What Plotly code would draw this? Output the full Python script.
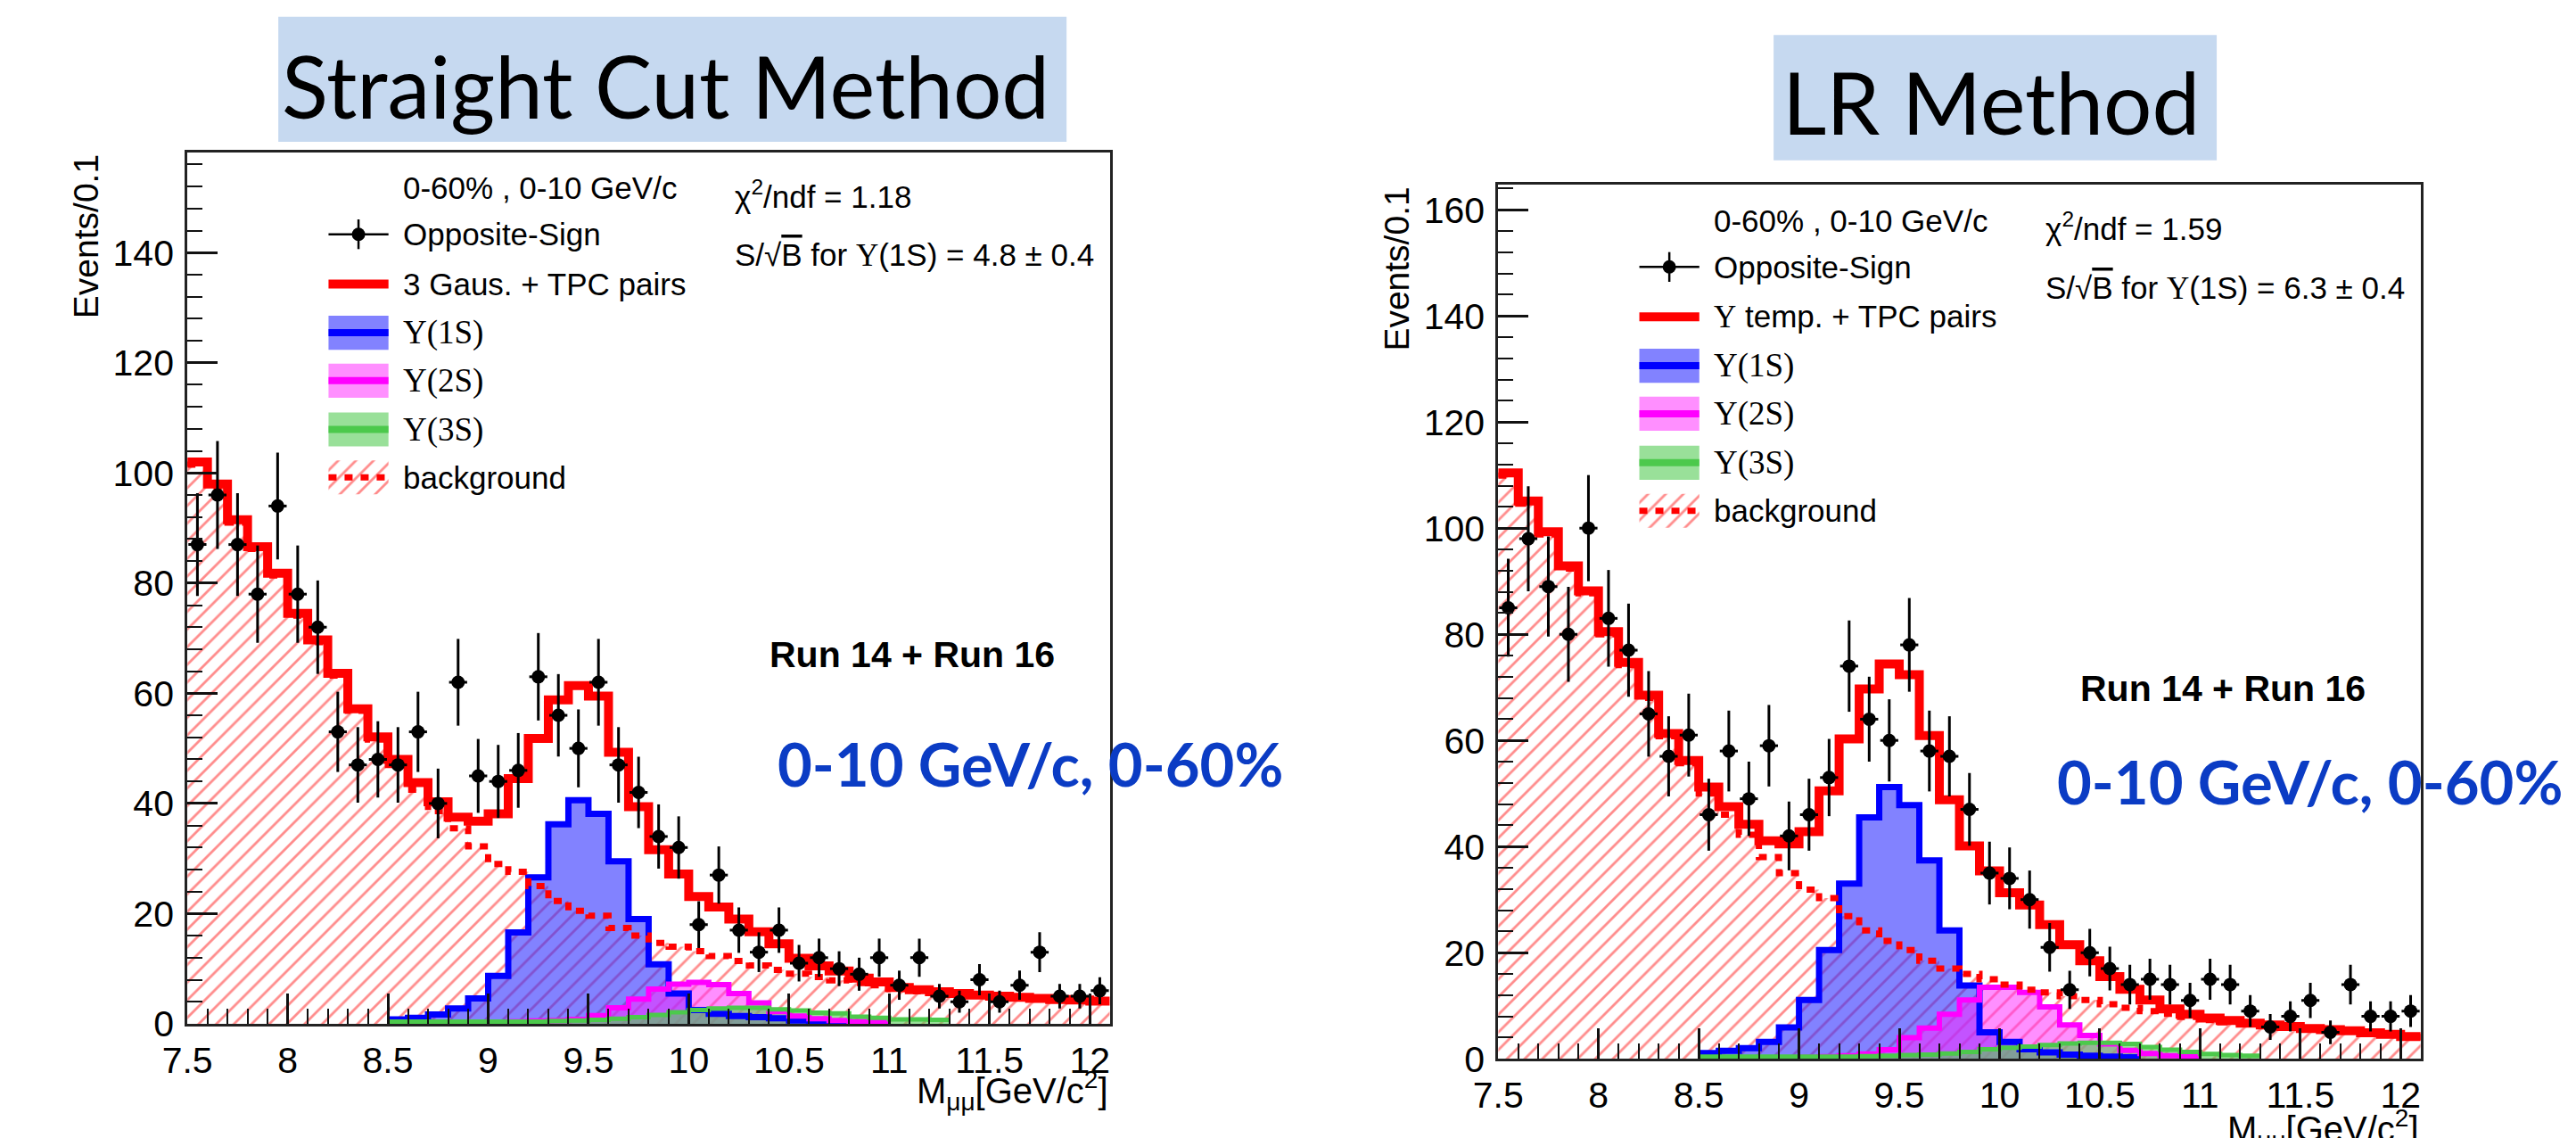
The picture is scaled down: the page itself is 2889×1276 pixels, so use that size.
import numpy as np
import plotly.graph_objects as go

W, H = 2889, 1276

# ---------------- data ----------------
BIN_LO = 7.5          # first bin edge  [GeV/c^2]
BIN_W = 0.1           # bin width
SIG_LO = 8.5          # first edge of the Upsilon templates
X_TICKS = [7.5, 8, 8.5, 9, 9.5, 10, 10.5, 11, 11.5, 12]

# Straight Cut Method
sc_data = [87, 96, 87, 78, 94, 78, 72, 53, 47, 48, 47, 53, 40, 62, 45, 44, 46, 63, 56, 50,
           62, 47, 42, 34, 32, 18, 27, 17, 13, 17, 11, 12, 10, 9, 12, 7, 12, 5, 4, 8,
           4, 7, 13, 5, 5, 6]
sc_total = [102, 98, 91.5, 86.6, 81.8, 74.5, 69.7, 63.6, 57.2, 52.1, 48.0, 43.8, 40.3, 37.5,
            36.8, 38.1, 44.5, 51.8, 58.8, 61.4, 59.5, 49.3, 39.4, 31.6, 27.2, 23.1, 21.2,
            19.0, 16.7, 14.5, 11.9, 10.5, 9.6, 8.3, 7.6, 6.6, 6.2, 5.8, 5.5, 5.2, 5.0, 4.8,
            4.6, 4.4, 4.3, 4.1]
sc_bkg = [101.5, 97.5, 91, 86.2, 81.4, 74.1, 69.3, 63.2, 56.8, 51.6, 47.0, 42.5, 38.6, 35.5,
          32.2, 29.0, 27.6, 25.0, 22.3, 20.5, 19.6, 17.4, 16.0, 14.7, 14.0, 13.2, 12.3, 11.4,
          10.6, 9.8, 9.1, 8.5, 7.9, 7.4, 7.0, 6.3, 5.9, 5.6, 5.4, 5.1, 4.9, 4.7, 4.5, 4.3,
          4.2, 4.0]
sc_1s = [0.8, 1.1, 1.7, 2.8, 4.6, 8.7, 16.6, 26.6, 36.2, 40.6, 38.1, 29.5, 19.0, 10.8, 5.5,
         2.5, 1.8, 1.4, 1.2, 1.0, 0.6, 0.4, 0.3]
sc_2s = [0.1, 0.1, 0.1, 0.2, 0.2, 0.3, 0.4, 0.5, 0.6, 0.8, 1.5, 2.9, 4.5, 6.3, 7.2, 7.5, 7.1,
         5.5, 3.8, 2.2, 1.4, 0.9, 0.6, 0.4, 0.3]
sc_3s = [0.4, 0.4, 0.4, 0.4, 0.4, 0.4, 0.4, 0.4, 0.5, 0.6, 0.7, 0.9, 1.2, 1.6, 2.1, 2.5, 2.8,
         2.9, 2.9, 2.6, 2.4, 2.0, 1.9, 1.3, 1.1, 0.8, 0.8, 0.7]

# LR Method
lr_data = [85, 98, 89, 80, 100, 83, 77, 65, 57, 61, 46, 58, 49, 59, 42, 46, 53, 74, 64, 60,
           78, 58, 57, 47, 35, 34, 30, 21, 13, 20, 17, 14, 15, 14, 11, 15, 14, 9, 6, 8,
           11, 5, 14, 8, 8, 9]
lr_total = [110.4, 105.1, 99.3, 92.9, 88.2, 80.5, 74.7, 68.5, 61.3, 56.2, 51.2, 47.5, 44.2,
            41.1, 40.5, 42.8, 50.5, 60.3, 69.7, 74.4, 72.4, 60.9, 48.8, 40.1, 35.4, 31.3,
            29.0, 25.3, 21.5, 18.5, 15.5, 13.1, 11.1, 9.4, 8.4, 7.7, 7.2, 6.7, 6.4, 6.1,
            5.7, 5.5, 5.3, 4.9, 4.6, 4.2]
lr_bkg = [109.9, 104.6, 98.8, 92.4, 87.7, 80.0, 74.2, 68.0, 60.8, 55.7, 50.0, 46.0, 42.2,
          38.0, 35.0, 31.9, 30.3, 26.9, 24.2, 22.2, 20.5, 18.5, 17.0, 16.0, 15.0, 14.0,
          13.0, 12.5, 11.8, 11.1, 10.3, 9.6, 9.0, 8.5, 7.9, 7.3, 6.9, 6.5, 6.2, 5.9, 5.6,
          5.4, 5.2, 4.8, 4.5, 4.1]
lr_1s = [1.1, 1.5, 2.0, 3.2, 5.9, 11.1, 20.5, 33.0, 45.5, 51.2, 47.8, 37.4, 24.2, 13.8, 5.0,
         3.2, 1.8, 1.2, 0.8, 0.6, 0.4, 0.3]
lr_2s = [0.1, 0.1, 0.1, 0.1, 0.2, 0.3, 0.4, 0.6, 0.9, 1.7, 4.0, 5.8, 8.4, 11.1, 13.5, 13.5,
         12.5, 9.8, 6.4, 4.4, 2.8, 1.6, 1.0, 0.6, 0.4]
lr_3s = [0.4, 0.4, 0.4, 0.4, 0.4, 0.4, 0.4, 0.4, 0.5, 0.6, 0.7, 0.8, 1.0, 1.3, 1.8, 2.1, 2.3,
         2.6, 2.9, 3.0, 3.0, 2.8, 2.2, 1.7, 1.3, 0.9, 0.7, 0.6]

panels = [
    dict(title="Straight Cut Method", data=sc_data, total=sc_total, bkg=sc_bkg,
         s1=sc_1s, s2=sc_2s, s3=sc_3s, fit_label="3 Gaus. + TPC pairs",
         chi2="1.18", sig="4.8 ± 0.4", ymax=158.2),
    dict(title="LR Method", data=lr_data, total=lr_total, bkg=lr_bkg,
         s1=lr_1s, s2=lr_2s, s3=lr_3s,
         fit_label="<span style='font-family:Liberation Serif'>Υ</span> temp. + TPC pairs",
         chi2="1.59", sig="6.3 ± 0.4", ymax=164.7),
]

# ---------------- layout geometry (pixels) ----------------
frames = [dict(x0=183, x1=1228, y0=174, y1=1169),
          dict(x0=1668, x1=2713, y0=211, y1=1209)]
title_boxes = [dict(x0=286, x1=1179, y0=19, y1=162, tx=725, ty=97),
               dict(x0=1980, x1=2482, y0=40, y1=183, tx=2226, ty=116)]
blue_text_pos = [(850, 872), (2299, 892)]
ytitle_x = [69, 1553]
xtitle_y = [1245, 1289]

RED = "#ff0000"
BLUE = "#0000ff"
MAG = "#ff00ff"
GREEN = "#4cc94c"
FILL1 = "rgba(40,40,255,0.58)"
FILL2 = "rgba(255,40,255,0.52)"
FILL3 = "rgba(90,205,90,0.62)"
HATCH = dict(shape="/", fgcolor="rgba(255,25,25,1)", bgcolor="rgba(0,0,0,0)",
             size=14, solidity=0.2)
SANS = "Liberation Sans"
SERIF = "Liberation Serif"


def step_xy(vals, start):
    x = start + BIN_W * np.arange(len(vals) + 1)
    y = list(vals) + [vals[-1]]
    return x, y


fig = go.Figure()

for i, p in enumerate(panels):
    xa = "x" if i == 0 else "x2"
    ya = "y" if i == 0 else "y2"
    xo = "x3" if i == 0 else "x4"
    yo = "y3" if i == 0 else "y4"

    # background hatched area
    bx, by = step_xy(p["bkg"], BIN_LO)
    fig.add_trace(go.Scatter(x=bx, y=by, mode="lines", line=dict(width=0, shape="hv"),
                             fill="tozeroy", fillcolor="rgba(0,0,0,0)", fillpattern=HATCH,
                             xaxis=xa, yaxis=ya, hoverinfo="skip", showlegend=False))
    # signal fills
    for vals, fc in [(p["s1"], FILL1), (p["s2"], FILL2), (p["s3"], FILL3)]:
        sx, sy = step_xy(vals, SIG_LO)
        fig.add_trace(go.Scatter(x=sx, y=sy, mode="lines", line=dict(width=0, shape="hv"),
                                 fill="tozeroy", fillcolor=fc,
                                 xaxis=xa, yaxis=ya, hoverinfo="skip", showlegend=False))
    # signal outlines
    for vals, lc, lw in [(p["s1"], BLUE, 7), (p["s2"], MAG, 6), (p["s3"], GREEN, 5)]:
        sx, sy = step_xy(vals, SIG_LO)
        fig.add_trace(go.Scatter(x=sx, y=sy, mode="lines", line=dict(width=lw, color=lc, shape="hv"),
                                 xaxis=xa, yaxis=ya, hoverinfo="skip", showlegend=False))
    # background dashed outline
    fig.add_trace(go.Scatter(x=bx, y=by, mode="lines",
                             line=dict(width=7, color=RED, shape="hv", dash="9px,9px"),
                             xaxis=xa, yaxis=ya, hoverinfo="skip", showlegend=False))
    # total fit
    tx, ty = step_xy(p["total"], BIN_LO)
    fig.add_trace(go.Scatter(x=tx, y=ty, mode="lines", line=dict(width=10, color=RED, shape="hv"),
                             xaxis=xa, yaxis=ya, hoverinfo="skip", showlegend=False))
    # data points
    centers = BIN_LO + BIN_W * (np.arange(len(p["data"])) + 0.5)
    d = np.array(p["data"], dtype=float)
    fig.add_trace(go.Scatter(x=centers, y=d, mode="markers",
                             marker=dict(color="black", size=15),
                             error_y=dict(type="data", array=np.sqrt(d), thickness=3, width=0, color="black"),
                             error_x=dict(type="constant", value=0.045, thickness=3, width=0, color="black"),
                             xaxis=xa, yaxis=ya, showlegend=False))

    # ---------------- legend symbols on overlay axes (0..1 domain units) ----------------
    rows = [0.906, 0.849, 0.793, 0.738, 0.682, 0.627]
    sx0, sx1 = 0.153, 0.218
    hh = 0.0195
    fig.add_trace(go.Scatter(x=[(sx0 + sx1) / 2], y=[rows[0]], mode="markers",
                             marker=dict(color="black", size=15),
                             error_x=dict(type="constant", value=(sx1 - sx0) / 2, thickness=2.5, width=0, color="black"),
                             error_y=dict(type="constant", value=0.017, thickness=2.5, width=0, color="black"),
                             xaxis=xo, yaxis=yo, showlegend=False, hoverinfo="skip"))
    fig.add_trace(go.Scatter(x=[sx0, sx1], y=[rows[1], rows[1]], mode="lines",
                             line=dict(color=RED, width=10), xaxis=xo, yaxis=yo,
                             showlegend=False, hoverinfo="skip"))
    for r, fc, lc in [(rows[2], FILL1, BLUE), (rows[3], FILL2, MAG), (rows[4], FILL3, GREEN)]:
        fig.add_trace(go.Scatter(x=[sx0, sx1, sx1, sx0, sx0], y=[r - hh, r - hh, r + hh, r + hh, r - hh],
                                 mode="lines", line=dict(width=0), fill="toself", fillcolor=fc,
                                 xaxis=xo, yaxis=yo, showlegend=False, hoverinfo="skip"))
        fig.add_trace(go.Scatter(x=[sx0, sx1], y=[r, r], mode="lines", line=dict(color=lc, width=8),
                                 xaxis=xo, yaxis=yo, showlegend=False, hoverinfo="skip"))
    r = rows[5]
    fig.add_trace(go.Scatter(x=[sx0, sx1, sx1, sx0, sx0], y=[r - hh, r - hh, r + hh, r + hh, r - hh],
                             mode="lines", line=dict(width=0), fill="toself",
                             fillcolor="rgba(0,0,0,0)", fillpattern=HATCH,
                             xaxis=xo, yaxis=yo, showlegend=False, hoverinfo="skip"))
    fig.add_trace(go.Scatter(x=[sx0, sx1], y=[r, r], mode="lines",
                             line=dict(color=RED, width=7, dash="9px,9px"),
                             xaxis=xo, yaxis=yo, showlegend=False, hoverinfo="skip"))

# ---------------- axes ----------------
layout_axes = {}
for i, fr in enumerate(frames):
    xd = [fr["x0"] / W, fr["x1"] / W]
    yd = [(H - fr["y1"]) / H, (H - fr["y0"]) / H]
    sfx = "" if i == 0 else "2"
    osfx = "3" if i == 0 else "4"
    common = dict(showgrid=False, zeroline=False, showline=True, linewidth=3, linecolor="#222",
                  mirror=True, ticks="inside", ticklen=34, tickwidth=2.5, tickcolor="#111",
                  tickfont=dict(family=SANS, size=41, color="black"))
    layout_axes["xaxis" + sfx] = dict(domain=xd, range=[BIN_LO, 12.1], anchor="y" + sfx,
                                      tickmode="array", tickvals=X_TICKS,
                                      ticktext=[f"{v:g}" for v in X_TICKS],
                                      ticklabelstandoff=3,
                                      minor=dict(ticks="inside", dtick=BIN_W, tick0=BIN_LO, ticklen=17,
                                                 tickwidth=2, tickcolor="#111"),
                                      **common)
    layout_axes["yaxis" + sfx] = dict(domain=yd, range=[0, panels[i]["ymax"]], anchor="x" + sfx,
                                      dtick=20, tick0=0, ticklabelstandoff=4,
                                      minor=dict(ticks="inside", dtick=4, ticklen=17, tickwidth=2,
                                                 tickcolor="#111"),
                                      **common)
    layout_axes["xaxis" + osfx] = dict(overlaying="x" + sfx, range=[0, 1], visible=False,
                                       anchor="y" + osfx, fixedrange=True)
    layout_axes["yaxis" + osfx] = dict(overlaying="y" + sfx, range=[0, 1], visible=False,
                                       anchor="x" + osfx, fixedrange=True)

# ---------------- annotations & shapes ----------------
ann = []
shapes = []
for i, p in enumerate(panels):
    sfx = "" if i == 0 else "2"
    xr, yr = f"x{sfx} domain", f"y{sfx} domain"
    fr = frames[i]

    def txt(text, x, y, size=35, family=SANS, xanchor="left"):
        ann.append(dict(text=text, x=x, y=y, xref=xr, yref=yr, xanchor=xanchor, yanchor="middle",
                        showarrow=False, font=dict(family=family, size=size, color="black")))

    txt("0-60% , 0-10 GeV/c", 0.232, 0.959)
    txt("Opposite-Sign", 0.232, 0.906)
    txt(p["fit_label"], 0.232, 0.849)
    txt("Υ(1S)", 0.232, 0.793, family=SERIF, size=37)
    txt("Υ(2S)", 0.232, 0.738, family=SERIF, size=37)
    txt("Υ(3S)", 0.232, 0.682, family=SERIF, size=37)
    txt("background", 0.232, 0.627)
    txt(f"χ<sup>2</sup>/ndf = {p['chi2']}", 0.591, 0.952)
    txt("S/√<span style='text-decoration:overline'>B</span> for "
        "<span style='font-family:Liberation Serif'>Υ</span>(1S) = " + p["sig"], 0.591, 0.882)
    txt("<b>Run 14 + Run 16</b>", 0.786, 0.424, size=41, xanchor="center")

    # axis titles
    ann.append(dict(text="Events/0.1", textangle=-90, x=ytitle_x[i] / W, y=(H - fr["y0"]) / H,
                    xref="paper", yref="paper", xanchor="center", yanchor="top", showarrow=False,
                    font=dict(family=SANS, size=39, color="black")))
    ann.append(dict(text="M<sub>μμ</sub>[GeV/c<sup>2</sup>]", x=fr["x1"] / W, y=(H - xtitle_y[i]) / H,
                    xref="paper", yref="paper", xanchor="right", yanchor="middle", showarrow=False,
                    font=dict(family=SANS, size=40, color="black")))

    # blue annotation
    bxp, byp = blue_text_pos[i]
    ann.append(dict(text="<b>0-10 GeV/c, 0-60%</b>", x=bxp / W, y=(H - byp) / H,
                    xref="paper", yref="paper", xanchor="left", yanchor="middle", showarrow=False,
                    font=dict(family="Lato", size=67, color="#0b3cc4")))

    # title box
    tb = title_boxes[i]
    shapes.append(dict(type="rect", xref="paper", yref="paper",
                       x0=tb["x0"] / W, x1=tb["x1"] / W, y0=(H - tb["y1"]) / H, y1=(H - tb["y0"]) / H,
                       fillcolor="#c6d9f0", line=dict(width=0), layer="below"))
    ann.append(dict(text=p["title"], x=tb["tx"] / W, y=(H - tb["ty"]) / H, xref="paper", yref="paper",
                    xanchor="center", yanchor="middle", showarrow=False,
                    font=dict(family="Lato", size=96, color="black")))

fig.update_layout(width=W, height=H, margin=dict(l=0, r=0, t=0, b=0),
                  paper_bgcolor="white", plot_bgcolor="white", showlegend=False,
                  annotations=ann, shapes=shapes, **layout_axes)

fig.write_html("out.html", config=dict(displayModeBar=False),
               post_script="document.body.style.margin='0px';document.body.style.overflow='hidden';")
